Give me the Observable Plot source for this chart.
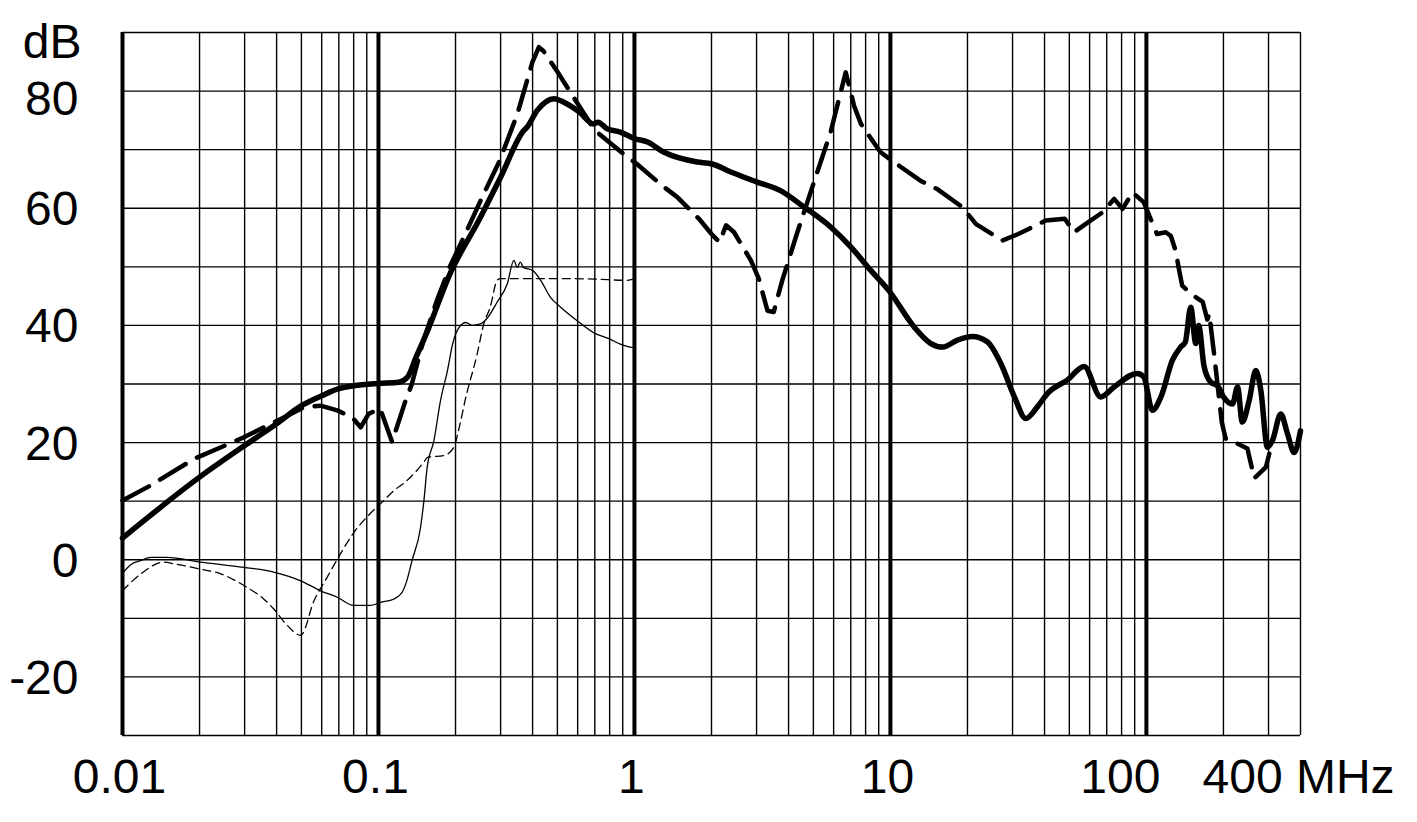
<!DOCTYPE html>
<html><head><meta charset="utf-8">
<script src="https://cdn.jsdelivr.net/npm/d3@7"></script>
<script src="https://cdn.jsdelivr.net/npm/@observablehq/plot@0.6"></script>
<style>
html,body{margin:0;padding:0;background:#fff;}
#chart svg{display:block;}
</style></head><body><div id="chart"></div>
<script>
// Thick solid curve
const solidF  = [0.01,0.02,0.03,0.04,0.05,0.06,0.07,0.08,0.1,0.12,0.13,0.14,0.1556,0.188,0.2506,0.3,0.37,0.38,0.417,0.485,0.53,0.61,0.69,0.72,0.78,0.88,1.0,1.125,1.3,1.76,2.0,2.38,3.0,3.72,4.6,5.84,7.0,8.38,9.88,12.4,14.4,16.0,18.3,20.9,23.9,27.0,30.5,33.8,37.5,41.1,49.2,57.1,66.3,74.8,92.2,97.7,105.6,114,126.5,136,142,149,156,160,168,178.5,189.7,200,217,227,237,252,267.6,280,297,311,335,356,377.7,400];
const solidDb = [3.7,14.1,19.5,23.2,26.3,28.0,29.2,29.7,30.1,30.3,31.2,34.5,39.1,48.3,58.5,65.3,73.3,73.8,76.7,78.7,78.1,76.4,74.4,74.7,73.6,73.0,71.9,71.3,69.6,67.9,67.6,66.2,64.5,63.0,60.2,56.8,53.4,49.4,45.9,39.7,36.9,36.3,37.5,38.1,37.2,33.5,27.8,24.1,26.1,28.4,30.7,33.0,27.8,29.5,31.8,31.2,25.5,27.8,34.1,36.3,37.2,43.1,36.9,40.0,33.0,30.3,29.7,27.8,26.6,29.5,23.5,27.2,32.3,28.9,19.2,20.4,24.9,21.5,18.3,22.0];

// Thick dashed curve
const dashF  = [0.01,0.0129,0.019,0.0298,0.0427,0.051,0.0594,0.069,0.079,0.0852,0.0915,0.1015,0.113,0.127,0.135,0.15,0.17,0.19,0.2157,0.258,0.296,0.349,0.399,0.4233,0.44,0.507,0.595,0.7,0.905,1.02,1.28,1.47,1.787,2.0,2.15,2.28,2.45,2.85,3.06,3.31,3.5,3.78,4.33,5.03,5.84,6.69,7.21,7.67,9.13,10.3,13.1,15.2,19.1,21.6,27.4,31.6,40.4,48,52.2,57.8,67.4,74.8,80.7,88.3,97.7,102.5,110,119,124.5,130,134,138,149,166,173,176,184,192,197,204,220,248,264,293,302];
const dashDb = [10.1,12.7,17.2,20.9,24.3,26.0,26.3,25.5,24.3,22.6,24.9,25.8,20.1,26.9,30.0,37.5,44.5,50.0,55.1,62.5,67.9,76.1,84.9,87.5,86.9,82.9,78.1,73.3,69.3,67.6,63.9,61.9,58.2,55.6,54.2,57.1,55.9,51.1,48.0,42.5,42.3,47.7,55.9,64.5,73.0,83.2,77.5,74.4,69.6,67.9,64.7,63.3,60.2,57.3,54.5,55.6,57.9,58.2,55.9,57.3,59.3,61.6,59.9,62.7,61.0,58.8,55.6,55.9,55.3,52.8,49.6,46.8,45.4,44.0,41.0,42.0,35.0,27.8,23.5,20.7,20.1,19.0,13.9,15.8,18.1];

// Thin solid curve
const thinF  = [0.01,0.0108,0.0117,0.0129,0.0149,0.0202,0.0298,0.039,0.0497,0.0594,0.069,0.0799,0.093,0.1015,0.115,0.1239,0.129,0.1353,0.146,0.1505,0.155,0.1646,0.1748,0.186,0.195,0.2068,0.2197,0.2325,0.2514,0.2676,0.291,0.3187,0.338,0.3487,0.358,0.3684,0.4,0.4302,0.47,0.515,0.597,0.69,0.8,0.88,0.96,1.0];
const thinDb = [-2.3,-0.8,-0.2,0.4,0.4,-0.4,-1.3,-2.1,-3.6,-5.3,-6.4,-7.8,-7.8,-7.3,-6.7,-5.5,-3.6,-0.1,5.5,10.1,15.8,20.3,27.2,32.3,36.9,39.7,40.5,40.0,40.3,41.4,44.0,47.1,51.1,49.9,50.8,49.9,49.4,47.7,44.8,43.1,40.8,38.8,37.7,36.8,36.3,36.2];

// Thin dashed curve
const thinDashF  = [0.01,0.0118,0.0145,0.0159,0.0202,0.0242,0.0298,0.0356,0.039,0.044,0.0497,0.056,0.063,0.071,0.08,0.0901,0.1015,0.115,0.129,0.141,0.15,0.156,0.18,0.197,0.2068,0.218,0.2432,0.258,0.273,0.291,0.3,0.5,0.7,0.93,1.0];
const thinDashDb = [-5.3,-2.4,-0.4,-0.7,-1.6,-2.4,-4.4,-6.7,-8.4,-11.2,-12.9,-7.0,-3.0,1.0,4.6,7.3,9.5,11.8,13.5,15.2,16.6,17.5,17.8,19.2,22.6,27.2,35.2,40.3,43.1,47.7,48.0,48.0,47.9,47.7,48.0];

// Axes
const yTickValues = [80,60,40,20,0,-20];
const xTickValues = [0.01,0.1,1,10,100,400];
const xTickLabels = ["0.01","0.1","1","10","100","400 MHz"];
const decades = [0.01,0.1,1,10,100];
const minorMultipliers = [2,3,4,5,6,7,8,9];
const hGrid = [-30,-20,-10,0,10,20,30,40,50,60,70,80,90];
const xMax = 400;

const rows = (f, v) => f.map((x, i) => ({f: x, db: v[i]}));
const minorX = decades.flatMap(d => minorMultipliers.map(m => m * d)).filter(v => v <= xMax + 1e-9);
const xLabels = xTickValues.map((v, i) => ({v, label: xTickLabels[i]}));

const font = 48;
const chart = Plot.plot({
  width: 1417, height: 822,
  marginLeft: 122, marginRight: 117, marginTop: 32, marginBottom: 87,
  x: {type: "log", domain: [0.01, xMax], axis: null},
  y: {domain: [-30, 90], axis: null},
  style: {fontFamily: "'Liberation Sans', Arial, sans-serif", background: "#fff", color: "#000"},
  marks: [
    Plot.ruleY(hGrid, {stroke: "#000", strokeWidth: 1.4}),
    Plot.ruleX(minorX, {stroke: "#000", strokeWidth: 1.4}),
    Plot.ruleX(decades, {stroke: "#000", strokeWidth: 4}),
    Plot.line(rows(thinF, thinDb), {x: "f", y: "db", stroke: "#000", strokeWidth: 1.3, curve: "monotone-x"}),
    Plot.line(rows(thinDashF, thinDashDb), {x: "f", y: "db", stroke: "#000", strokeWidth: 1.3, strokeDasharray: "8,5", curve: "monotone-x"}),
    Plot.line(rows(dashF, dashDb), {x: "f", y: "db", stroke: "#000", strokeWidth: 4.5, strokeDasharray: "30,13", strokeLinejoin: "round"}),
    Plot.line(rows(solidF, solidDb), {x: "f", y: "db", stroke: "#000", strokeWidth: 5.5, strokeLinejoin: "round", curve: "monotone-x"}),
    // y labels
    Plot.text(yTickValues.filter(v => v !== 80), {y: d => d, text: d => String(d), frameAnchor: "left", dx: -44, dy: 17, textAnchor: "end", lineAnchor: "bottom", fontSize: font, fill: "#000"}),
    Plot.text(yTickValues.filter(v => v === 80), {y: d => d, text: d => String(d), frameAnchor: "left", dx: -44, dy: 24, textAnchor: "end", lineAnchor: "bottom", fontSize: font, fill: "#000"}),
    Plot.text(["dB"], {frameAnchor: "top-left", dx: -41, dy: 25, textAnchor: "end", lineAnchor: "bottom", fontSize: font, fill: "#000"}),
    // x labels
    Plot.text(xLabels.filter(d => d.v <= 10), {x: "v", text: "label", frameAnchor: "bottom", dy: 57, lineAnchor: "bottom", fontSize: font, fill: "#000", dx: -3}),
    Plot.text(xLabels.filter(d => d.v === 100), {x: "v", text: "label", frameAnchor: "bottom", dy: 57, lineAnchor: "bottom", fontSize: font, fill: "#000", dx: -26}),
    Plot.text(xLabels.filter(d => d.v === 400), {x: "v", text: "label", frameAnchor: "bottom", dy: 57, lineAnchor: "bottom", fontSize: font, fill: "#000", textAnchor: "start", dx: -98})
  ]
});
document.getElementById("chart").appendChild(chart);
</script></body></html>
